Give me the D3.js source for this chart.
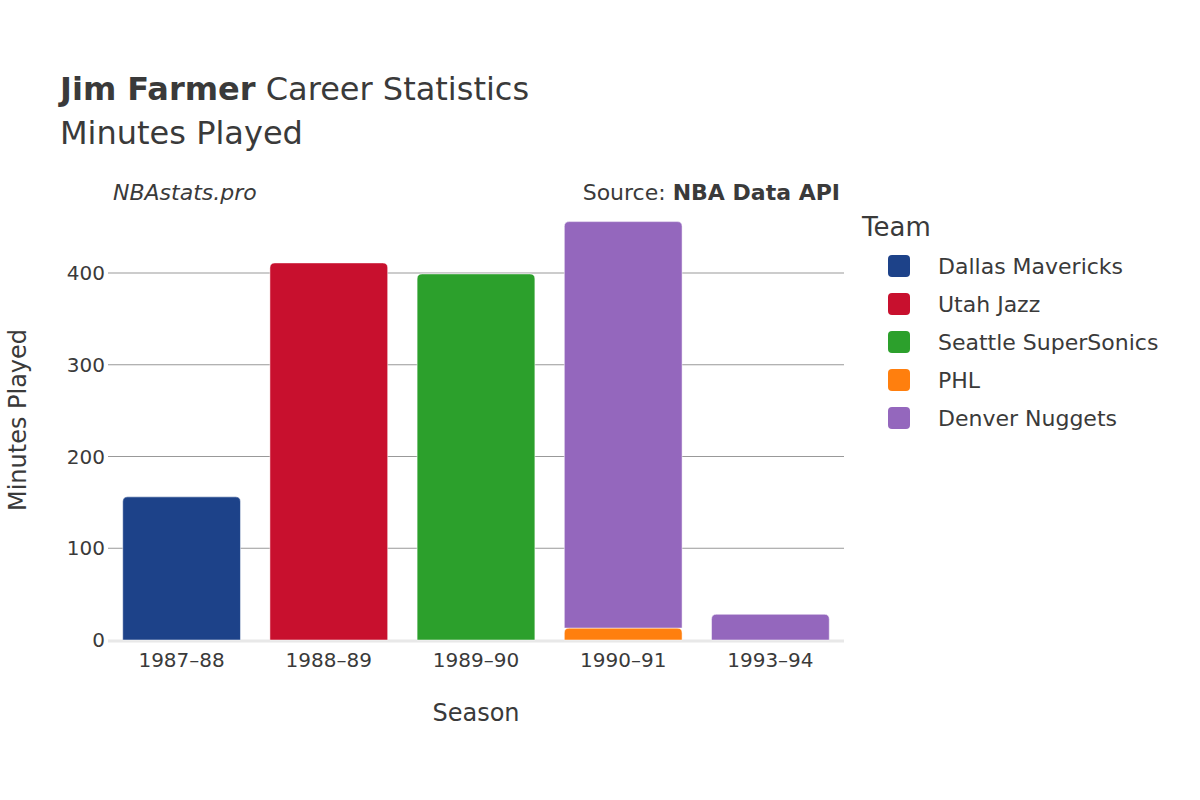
<!DOCTYPE html>
<html><head><meta charset="utf-8">
<script src="https://cdn.jsdelivr.net/npm/d3@7/dist/d3.min.js"></script>
<style>body{margin:0;background:#fff}text{font-family:"DejaVu Sans",sans-serif;fill:#3a3a3a}</style>
</head><body><svg id="c" width="1200" height="800"></svg>
<script>
const seasons=["1987–88","1988–89","1989–90","1990–91","1993–94"];
const teams=["Dallas Mavericks","Utah Jazz","Seattle SuperSonics","PHL","Denver Nuggets"];
const colors=["#1d4289","#c8102e","#2ca02c","#ff7f0e","#9467bd"];
const segments=[
 {season:"1987–88",team:"Dallas Mavericks",value:156},
 {season:"1988–89",team:"Utah Jazz",value:411},
 {season:"1989–90",team:"Seattle SuperSonics",value:399},
 {season:"1990–91",team:"PHL",value:13},
 {season:"1990–91",team:"Denver Nuggets",value:443},
 {season:"1993–94",team:"Denver Nuggets",value:28}];
const yTicks=[0,100,200,300,400];
const svg=d3.select("#c");
const L=108,R=844,T=200,B=640;
const x=d3.scaleBand().domain(seasons).range([L,R]).paddingInner(0.2).paddingOuter(0.1);
const y=d3.scaleLinear().domain([0,400]).range([B,273]);
const col=d3.scaleOrdinal().domain(teams).range(colors);
svg.append("g").selectAll("line").data(yTicks.slice(1)).join("line")
 .attr("x1",L).attr("x2",R).attr("y1",d=>y(d)).attr("y2",d=>y(d)).attr("stroke","#999").attr("stroke-width",1);
svg.append("line").attr("x1",L).attr("x2",R).attr("y1",B+1).attr("y2",B+1).attr("stroke","#e8e8e8").attr("stroke-width",3);
svg.append("g").selectAll("text").data(yTicks).join("text").attr("x",L-3).attr("y",d=>y(d)+7)
 .attr("text-anchor","end").attr("font-size",20).text(d=>d);
const base={};
segments.forEach(s=>{const b=base[s.season]||0;s.y0=b;s.y1=b+s.value;base[s.season]=s.y1;});
svg.append("g").selectAll("path").data(segments).join("path")
 .attr("fill",d=>col(d.team)).attr("stroke","#fff").attr("stroke-width",0.5)
 .attr("d",d=>{const x0=x(d.season),w=x.bandwidth(),yt=y(d.y1),yb=y(d.y0),r=Math.min(5,(yb-yt)/2);
  return `M${x0},${yb}V${yt+r}Q${x0},${yt} ${x0+r},${yt}H${x0+w-r}Q${x0+w},${yt} ${x0+w},${yt+r}V${yb}Z`;});
svg.append("g").selectAll("text").data(seasons).join("text").attr("x",d=>x(d)+x.bandwidth()/2).attr("y",667)
 .attr("text-anchor","middle").attr("font-size",20).text(d=>d);
svg.append("text").attr("x",476).attr("y",721).attr("text-anchor","middle").attr("font-size",24).text("Season");
svg.append("text").attr("transform","translate(26,420) rotate(-90)").attr("text-anchor","middle").attr("font-size",24).text("Minutes Played");
const t=svg.append("text").attr("x",60).attr("y",100).attr("font-size",32);
t.append("tspan").attr("font-weight","bold").text("Jim Farmer");
t.append("tspan").text(" Career Statistics");
svg.append("text").attr("x",60).attr("y",144).attr("font-size",32).text("Minutes Played");
svg.append("text").attr("x",113).attr("y",200).attr("font-size",22).attr("font-style","italic").text("NBAstats.pro");
const s=svg.append("text").attr("x",840).attr("y",200).attr("font-size",22).attr("text-anchor","end");
s.append("tspan").text("Source: ");s.append("tspan").attr("font-weight","bold").text("NBA Data API");
svg.append("text").attr("x",862).attr("y",236).attr("font-size",26).text("Team");
const lg=svg.append("g").selectAll("g").data(teams).join("g").attr("transform",(d,i)=>`translate(0,${266+i*38})`);
lg.append("rect").attr("x",888).attr("y",-11).attr("width",22).attr("height",22).attr("rx",4).attr("fill",d=>col(d));
lg.append("text").attr("x",938).attr("y",8).attr("font-size",22).text(d=>d);
</script></body></html>
